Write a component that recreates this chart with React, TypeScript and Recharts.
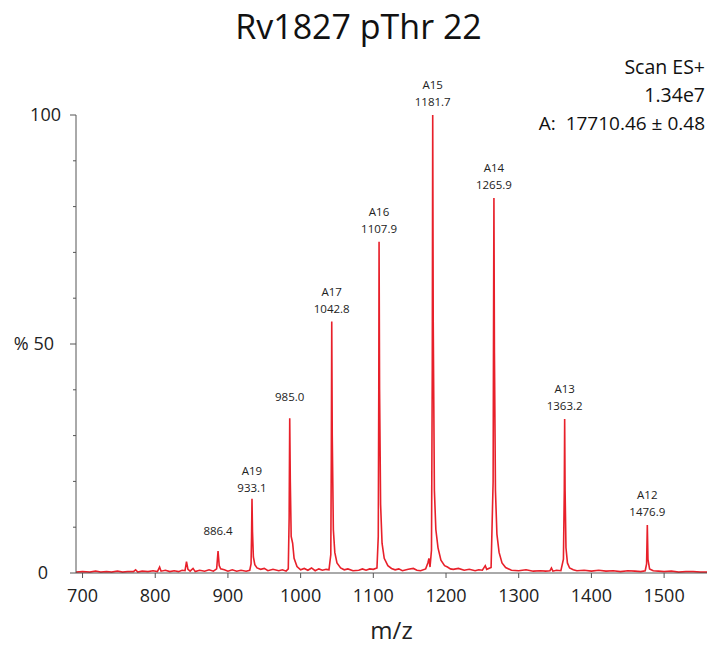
import { ComposedChart, Line, XAxis, YAxis, LabelList } from 'recharts';

// spectrum trace: m/z and relative intensity (%)
const mzValues = [
  691, 700, 710, 718, 725, 733, 740, 748, 755, 762, 770, 773, 776, 782, 790, 797, 803, 806, 808, 814,
  820, 826, 832, 837, 841, 843, 845, 848, 852, 855, 861, 868, 874, 880, 884.5, 886.4, 888, 890, 895,
  900, 906, 912, 918, 925, 930, 931.8, 932.5, 933.1, 933.8, 935, 937, 940, 945, 950, 955, 962, 970,
  975, 980, 983, 984.2, 985.0, 985.8, 987, 989, 991, 995, 1000, 1005, 1010, 1015, 1020, 1025, 1030,
  1035, 1039, 1041.5, 1042.2, 1042.8, 1043.5, 1045, 1047, 1050, 1055, 1060, 1065, 1072, 1080, 1085,
  1090, 1095, 1100, 1105, 1106.8, 1107.5, 1107.9, 1108.6, 1110, 1112, 1115, 1120, 1125, 1130, 1135,
  1140, 1148, 1155, 1160, 1165, 1172, 1175, 1176.5, 1178, 1180, 1181.1, 1181.7, 1182.4, 1184, 1186,
  1189, 1193, 1198, 1202, 1206, 1210, 1217, 1225, 1232, 1240, 1245, 1250, 1254, 1256, 1262, 1264.8,
  1265.3, 1265.9, 1266.6, 1268, 1270, 1273, 1277, 1282, 1290, 1300, 1310, 1320, 1330, 1337, 1343,
  1345, 1347, 1352, 1358, 1361.5, 1362.7, 1363.2, 1363.8, 1365, 1367, 1370, 1375, 1380, 1390, 1400,
  1410, 1420, 1430, 1440, 1450, 1460, 1468, 1474, 1475.9, 1476.9, 1477.8, 1480, 1485, 1492, 1500,
  1510, 1520, 1530, 1540, 1550, 1559,
];

const intensities = [
  0.2, 0.3, 0.2, 0.4, 0.2, 0.3, 0.2, 0.4, 0.2, 0.3, 0.3, 0.7, 0.2, 0.4, 0.3, 0.5, 0.3, 1.3, 0.4, 0.6,
  0.3, 0.5, 0.3, 0.6, 0.5, 2.5, 0.8, 0.4, 1.0, 0.3, 0.6, 0.4, 0.7, 0.4, 0.9, 4.8, 1.6, 0.9, 0.7,
  0.4, 0.7, 0.4, 0.6, 0.4, 0.6, 2, 8, 16.2, 9, 3.5, 1.8, 1.1, 0.8, 1.0, 0.5, 0.8, 0.5,
  0.7, 0.4, 0.9, 12, 33.8, 20, 8, 6.5, 3.2, 1.4, 0.7, 1.0, 0.6, 1.1, 0.5, 0.9, 0.6,
  0.8, 0.7, 4, 25, 54.9, 30, 9.5, 4.5, 2.2, 1.1, 0.7, 0.9, 0.5, 0.6, 0.9,
  0.6, 0.9, 0.8, 1.1, 8, 40, 72.3, 40, 15, 6.5, 3.2, 1.6, 1.0, 0.7, 0.9,
  0.5, 0.8, 1.0, 0.6, 0.5, 0.9, 2.2, 3.2, 1.3, 5, 45, 100, 55, 18, 9.5,
  5.5, 2.8, 1.6, 1.3, 0.9, 0.8, 1.0, 0.6, 0.8, 0.5, 0.7, 0.6, 1.6, 0.8, 1.2, 20,
  50, 81.9, 48, 18, 8.5, 4.5, 2.2, 1.2, 0.6, 0.5, 0.7, 0.4, 0.5, 0.4, 0.5,
  1.1, 0.4, 0.6, 0.5, 3, 18, 33.6, 18, 5.5, 2.2, 1.1, 0.7, 0.5, 0.6, 0.4,
  0.6, 0.4, 0.5, 0.3, 0.5, 0.4, 0.3, 0.5, 2, 10.5, 3, 0.9, 0.5, 0.4, 0.3,
  0.4, 0.2, 0.3, 0.3, 0.2, 0.2,
];

const peakMz = [886.4, 933.1, 985.0, 1042.8, 1107.9, 1181.7, 1265.9, 1363.2, 1476.9];
const peakNames = ['', 'A19', '', 'A17', 'A16', 'A15', 'A14', 'A13', 'A12'];

const xTicks = [700, 800, 900, 1000, 1100, 1200, 1300, 1400, 1500];
const yTicks = [0, 10, 20, 30, 40, 50, 60, 70, 80, 90, 100];
const yTickText: Record<number, string> = { 0: '0', 50: '% 50', 100: '100' };
const yTickShift: Record<number, number> = { 0: 28, 50: 22, 100: 15 };
// gap between a peak's apex and its label, where the original moved it up
const labelGap: Record<string, number> = { '886.4': 16, '985.0': 17, '933.1': 7 };

const FONT = '"Open Sans", "Noto Sans", sans-serif';
const RED = '#e8202a';
const AXIS = '#555';

const data = mzValues.map((mz, i) => {
  const p = peakMz.indexOf(mz);
  return {
    mz,
    intensity: intensities[i],
    peak: p >= 0 ? mz.toFixed(1) : undefined,
    name: p >= 0 ? peakNames[p] : undefined,
  };
});

function YTick(props: any) {
  const { x, y, payload } = props;
  const v = payload.value as number;
  const major = v % 50 === 0;
  return (
    <g>
      <line x1={x - (major ? 6 : 3)} x2={x} y1={y} y2={y} stroke={AXIS} strokeWidth={1} />
      {major && (
        <text
          x={x - yTickShift[v]}
          y={y}
          dy="0.35em"
          textAnchor="end"
          fontSize={18}
          fontFamily={FONT}
          fill="#222"
        >
          {yTickText[v]}
        </text>
      )}
    </g>
  );
}

function PeakLabel(props: any) {
  const { x, y, value, index } = props;
  if (!value) return null;
  const name = data[index].name;
  const gap = labelGap[value] ?? 9;
  return (
    <g fontFamily={FONT} fontSize={11.5} fill="#222" textAnchor="middle">
      <text x={x} y={y - gap}>{value}</text>
      {name && <text x={x} y={y - gap - 17}>{name}</text>}
    </g>
  );
}

const corner = {
  position: 'absolute' as const,
  right: 2,
  fontSize: 19.5,
  color: '#111',
  whiteSpace: 'pre' as const,
  textAlign: 'right' as const,
};

export default function App() {
  return (
    <div
      style={{
        position: 'absolute',
        left: 0,
        top: 0,
        width: 707,
        height: 645,
        overflow: 'hidden',
        background: '#fff',
        fontFamily: FONT,
      }}
    >
      <div
        style={{
          position: 'absolute',
          left: 0,
          width: 717,
          top: 3,
          textAlign: 'center',
          fontSize: 34,
          color: '#111',
        }}
      >
        Rv1827 pThr 22
      </div>
      <div style={{ ...corner, top: 53 }}>Scan ES+</div>
      <div style={{ ...corner, top: 81 }}>1.34e7</div>
      <div style={{ ...corner, top: 110, fontSize: 19 }}>{'A:  17710.46 \u00b1 0.48'}</div>
      <ComposedChart
        width={707}
        height={645}
        data={data}
        margin={{ top: 115, right: 0, bottom: 0, left: 0 }}
      >
        <XAxis
          dataKey="mz"
          type="number"
          domain={[691, 1559]}
          allowDataOverflow
          ticks={xTicks}
          height={72}
          stroke={AXIS}
          tickSize={5}
          tickMargin={11}
          tick={{ fontSize: 18, fontFamily: FONT, fill: '#222' }}
          label={{
            value: 'm/z',
            position: 'insideBottom',
            offset: 6,
            fontSize: 24,
            fontFamily: FONT,
            fill: '#222',
          }}
        />
        <YAxis
          type="number"
          domain={[0, 100]}
          ticks={yTicks}
          width={76}
          stroke={AXIS}
          tickLine={false}
          tickSize={0}
          tickMargin={0}
          tick={<YTick />}
          interval={0}
        />
        <Line
          type="linear"
          dataKey="intensity"
          stroke={RED}
          strokeWidth={1.6}
          dot={false}
          activeDot={false}
          isAnimationActive={false}
        >
          <LabelList dataKey="peak" content={<PeakLabel />} />
        </Line>
      </ComposedChart>
    </div>
  );
}
